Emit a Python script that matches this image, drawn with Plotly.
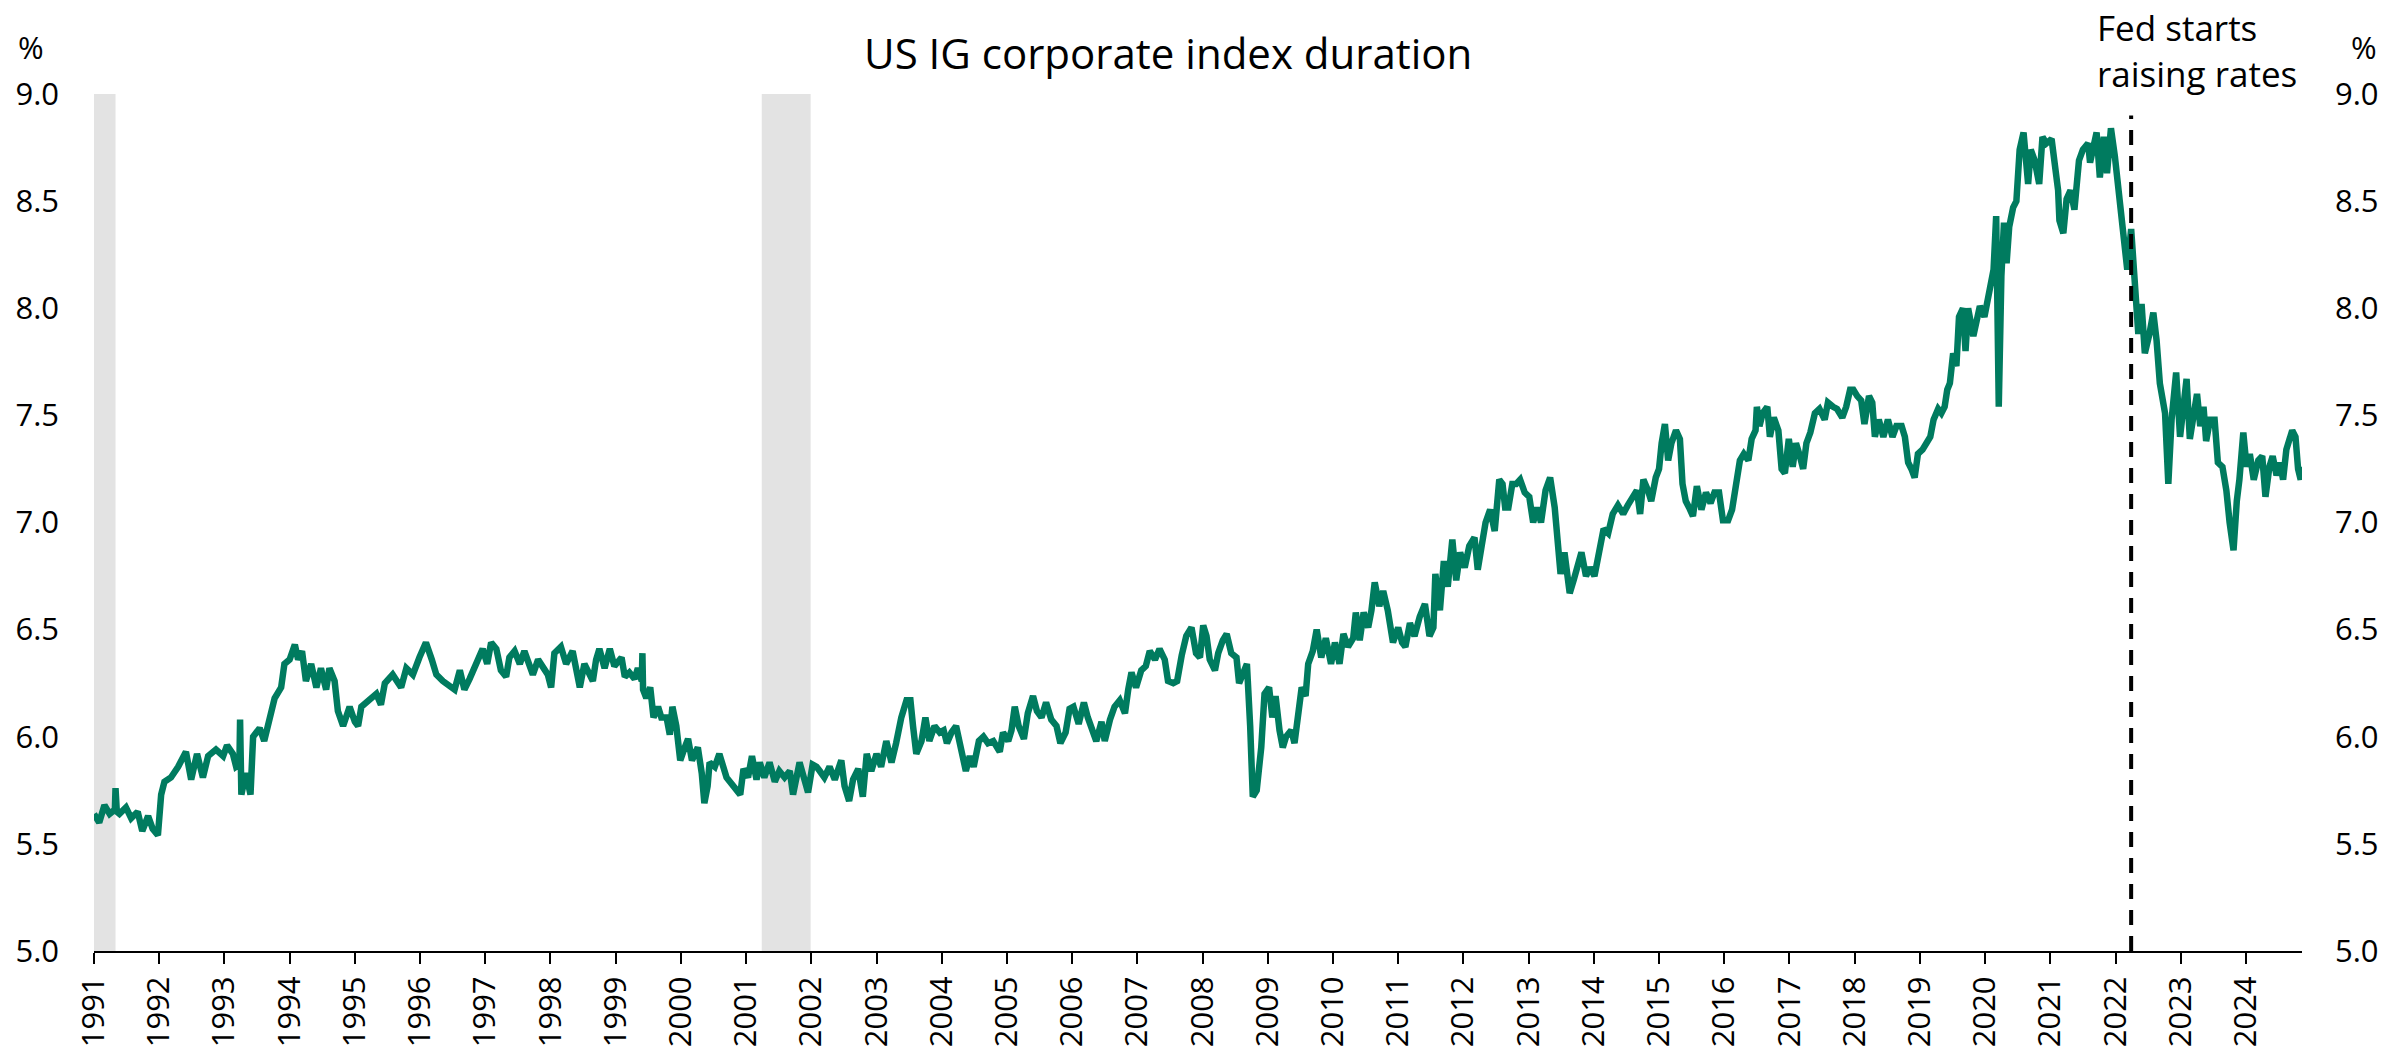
import plotly.graph_objects as go

# Decimal-year time stamps and index duration (%)
years = [
    1991.00, 1991.08, 1991.16, 1991.24, 1991.32, 1991.33, 1991.35, 1991.39, 1991.49, 1991.57,
    1991.67, 1991.74, 1991.83, 1991.90, 1991.98, 1992.03, 1992.08, 1992.18, 1992.29, 1992.41,
    1992.49, 1992.58, 1992.67, 1992.75, 1992.87, 1992.98, 1993.04, 1993.13, 1993.18, 1993.23,
    1993.24, 1993.26, 1993.33, 1993.40, 1993.44, 1993.54, 1993.61, 1993.69, 1993.77, 1993.87,
    1993.92, 1994.00, 1994.08, 1994.13, 1994.19, 1994.25, 1994.33, 1994.41, 1994.48, 1994.56,
    1994.61, 1994.69, 1994.74, 1994.82, 1994.92, 1995.00, 1995.05, 1995.10, 1995.23, 1995.33,
    1995.40, 1995.46, 1995.58, 1995.71, 1995.79, 1995.89, 1995.99, 1996.04, 1996.09, 1996.18,
    1996.25, 1996.35, 1996.43,
    1996.53, 1996.61, 1996.68, 1996.76, 1996.84, 1996.91, 1996.96, 1997.03, 1997.09, 1997.17,
    1997.24, 1997.32, 1997.37, 1997.45, 1997.53, 1997.60, 1997.68, 1997.73, 1997.81, 1997.88,
    1997.96, 1998.01, 1998.06, 1998.16, 1998.24, 1998.34, 1998.40, 1998.45, 1998.52, 1998.60,
    1998.65, 1998.70, 1998.75, 1998.83, 1998.91, 1998.98, 1999.09, 1999.14, 1999.21, 1999.29,
    1999.34, 1999.40, 1999.41, 1999.42, 1999.47, 1999.53, 1999.58, 1999.65, 1999.70, 1999.78,
    1999.83, 1999.87, 1999.93, 1999.99, 2000.06, 2000.11, 2000.17, 2000.26, 2000.32, 2000.36,
    2000.41, 2000.44, 2000.52, 2000.59, 2000.70, 2000.79, 2000.85, 2000.91, 2000.96, 2001.03,
    2001.09, 2001.16, 2001.21, 2001.28, 2001.36, 2001.44, 2001.51, 2001.59, 2001.67, 2001.72,
    2001.82, 2001.87, 2001.95, 2002.02, 2002.08,
    2002.13, 2002.20, 2002.28, 2002.36, 2002.46, 2002.51, 2002.58, 2002.64, 2002.72, 2002.79,
    2002.85, 2002.92, 2003.00, 2003.07, 2003.15, 2003.23, 2003.30, 2003.38, 2003.46, 2003.52,
    2003.56, 2003.61, 2003.69, 2003.75, 2003.81, 2003.89, 2003.97, 2004.03, 2004.08, 2004.15,
    2004.22, 2004.27, 2004.37, 2004.43, 2004.49, 2004.57, 2004.64, 2004.71, 2004.79, 2004.89,
    2004.94, 2005.02, 2005.07, 2005.12, 2005.18, 2005.26, 2005.32, 2005.40, 2005.46, 2005.53,
    2005.60, 2005.68, 2005.76, 2005.82, 2005.90, 2005.96, 2006.02, 2006.10, 2006.18, 2006.24,
    2006.32, 2006.37, 2006.45, 2006.50, 2006.58, 2006.65, 2006.73, 2006.81, 2006.86, 2006.91,
    2006.98, 2007.06, 2007.13, 2007.19, 2007.27, 2007.34, 2007.42, 2007.47, 2007.55, 2007.61,
    2007.68, 2007.75, 2007.83, 2007.90, 2007.96, 2008.01, 2008.06, 2008.11, 2008.19, 2008.24,
    2008.31, 2008.37, 2008.44, 2008.52, 2008.56, 2008.62, 2008.68, 2008.73, 2008.77, 2008.83,
    2008.90, 2008.95, 2009.02, 2009.07, 2009.12, 2009.18, 2009.23, 2009.28, 2009.36, 2009.41,
    2009.45, 2009.52, 2009.58, 2009.62, 2009.69, 2009.75, 2009.82, 2009.89, 2009.97, 2010.03,
    2010.10, 2010.16, 2010.23, 2010.31, 2010.35, 2010.41, 2010.47, 2010.54, 2010.59, 2010.64,
    2010.71, 2010.77, 2010.84, 2010.92, 2011.00, 2011.06, 2011.11, 2011.18, 2011.25, 2011.33,
    2011.41, 2011.48, 2011.54, 2011.57, 2011.64, 2011.70, 2011.76, 2011.83, 2011.89, 2011.95,
    2012.02, 2012.09, 2012.17, 2012.22, 2012.28, 2012.34, 2012.41, 2012.48, 2012.55, 2012.60,
    2012.64, 2012.69, 2012.75, 2012.81, 2012.87, 2012.94, 2013.01, 2013.07, 2013.13, 2013.19,
    2013.26, 2013.33, 2013.40, 2013.45, 2013.49, 2013.55, 2013.63, 2013.69, 2013.76, 2013.81,
    2013.88, 2013.94, 2014.01, 2014.06,
    2014.15, 2014.22, 2014.29, 2014.37, 2014.45, 2014.52, 2014.60, 2014.66, 2014.71, 2014.76,
    2014.83, 2014.88, 2014.95, 2015.00, 2015.04, 2015.09, 2015.14, 2015.19, 2015.26, 2015.32,
    2015.36, 2015.41, 2015.46, 2015.52, 2015.58, 2015.65, 2015.72, 2015.79, 2015.85, 2015.92,
    2015.98, 2016.06, 2016.12, 2016.19, 2016.24, 2016.30, 2016.37, 2016.42, 2016.48, 2016.50,
    2016.54, 2016.59, 2016.66, 2016.70, 2016.76, 2016.83, 2016.88, 2016.93, 2016.99, 2017.05,
    2017.10, 2017.16, 2017.21, 2017.26, 2017.32, 2017.39, 2017.46, 2017.54, 2017.59, 2017.67,
    2017.73, 2017.81, 2017.87, 2017.93, 2017.98, 2018.04, 2018.10, 2018.15, 2018.22, 2018.27,
    2018.31, 2018.37, 2018.44, 2018.51, 2018.58, 2018.64, 2018.72, 2018.77, 2018.82, 2018.87,
    2018.92, 2018.97, 2019.04, 2019.10, 2019.16, 2019.21, 2019.28, 2019.33, 2019.38, 2019.42,
    2019.46, 2019.51, 2019.56, 2019.60, 2019.66, 2019.70, 2019.74, 2019.82, 2019.87, 2019.92,
    2019.99, 2020.05, 2020.10, 2020.13, 2020.17, 2020.21, 2020.25, 2020.29, 2020.33, 2020.37,
    2020.43, 2020.48, 2020.53, 2020.59, 2020.66, 2020.70, 2020.76, 2020.83, 2020.88, 2020.94,
    2021.02, 2021.07, 2021.12, 2021.14, 2021.20, 2021.25, 2021.31, 2021.37, 2021.44, 2021.50,
    2021.58, 2021.61, 2021.71, 2021.76, 2021.82, 2021.87, 2021.93, 2021.99, 2022.04, 2022.09,
    2022.13, 2022.18, 2022.24, 2022.30, 2022.35, 2022.40, 2022.45, 2022.52, 2022.58, 2022.63,
    2022.68, 2022.76, 2022.81, 2022.86, 2022.93, 2022.99, 2023.04, 2023.09, 2023.14, 2023.19,
    2023.25, 2023.30, 2023.35, 2023.39, 2023.45, 2023.52, 2023.57, 2023.64, 2023.70, 2023.75,
    2023.81, 2023.86, 2023.90, 2023.96, 2024.01, 2024.06, 2024.12, 2024.19, 2024.25, 2024.30,
    2024.36, 2024.41, 2024.47, 2024.52, 2024.57, 2024.62, 2024.67, 2024.71, 2024.76, 2024.80,
    2024.84, 2024.86,
]

duration = [
    5.64, 5.60, 5.68, 5.64, 5.66, 5.76, 5.65, 5.64, 5.67, 5.62,
    5.65, 5.56, 5.63, 5.57, 5.54, 5.73, 5.79, 5.81, 5.86, 5.93,
    5.80, 5.92, 5.81, 5.91, 5.94, 5.91, 5.96, 5.92, 5.86, 5.87,
    6.08, 5.73, 5.83, 5.73, 6.00, 6.04, 5.98, 6.07, 6.18, 6.23,
    6.34, 6.36, 6.43, 6.36, 6.40, 6.26, 6.34, 6.23, 6.32, 6.22,
    6.32, 6.26, 6.12, 6.05, 6.14, 6.07, 6.05, 6.14, 6.18, 6.20,
    6.15, 6.25, 6.29, 6.23, 6.32, 6.29, 6.37, 6.40, 6.44, 6.36,
    6.29, 6.26, 6.24,
    6.22, 6.31, 6.22, 6.27, 6.32, 6.37, 6.41, 6.34, 6.44, 6.41,
    6.31, 6.28, 6.37, 6.40, 6.34, 6.40, 6.34, 6.29, 6.36, 6.33,
    6.29, 6.23, 6.39, 6.42, 6.34, 6.40, 6.28, 6.23, 6.34, 6.28,
    6.26, 6.36, 6.41, 6.32, 6.41, 6.33, 6.37, 6.28, 6.30, 6.27,
    6.32, 6.26, 6.39, 6.22, 6.18, 6.23, 6.09, 6.14, 6.09, 6.09,
    6.01, 6.14, 6.05, 5.89, 5.95, 5.99, 5.89, 5.95, 5.83, 5.69,
    5.77, 5.88, 5.86, 5.92, 5.81, 5.78, 5.76, 5.73, 5.85, 5.81,
    5.91, 5.80, 5.88, 5.81, 5.88, 5.79, 5.84, 5.81, 5.84, 5.73,
    5.88, 5.83, 5.74, 5.87, 5.86,
    5.84, 5.81, 5.86, 5.80, 5.89, 5.77, 5.70, 5.80, 5.85, 5.72,
    5.92, 5.84, 5.92, 5.86, 5.98, 5.88, 5.97, 6.09, 6.17, 6.17,
    6.05, 5.92, 5.98, 6.09, 5.98, 6.05, 6.02, 6.03, 5.97, 6.02,
    6.05, 5.98, 5.84, 5.91, 5.86, 5.98, 6.00, 5.97, 5.98, 5.93,
    6.02, 5.98, 6.03, 6.14, 6.05, 5.99, 6.11, 6.19, 6.12, 6.09,
    6.16, 6.08, 6.05, 5.97, 6.02, 6.13, 6.14, 6.06, 6.16, 6.09,
    6.02, 5.98, 6.07, 5.98, 6.08, 6.14, 6.17, 6.11, 6.22, 6.30,
    6.23, 6.31, 6.33, 6.40, 6.36, 6.41, 6.36, 6.26, 6.25, 6.26,
    6.38, 6.47, 6.51, 6.39, 6.37, 6.52, 6.47, 6.36, 6.31, 6.39,
    6.45, 6.48, 6.39, 6.37, 6.25, 6.30, 6.34, 6.05, 5.72, 5.75,
    5.95, 6.20, 6.23, 6.09, 6.19, 6.03, 5.95, 6.00, 6.03, 5.97,
    6.09, 6.23, 6.19, 6.34, 6.40, 6.50, 6.37, 6.46, 6.34, 6.44,
    6.34, 6.48, 6.42, 6.46, 6.58, 6.45, 6.58, 6.51, 6.59, 6.72,
    6.61, 6.68, 6.59, 6.44, 6.51, 6.44, 6.42, 6.53, 6.47, 6.56,
    6.62, 6.47, 6.51, 6.76, 6.59, 6.82, 6.70, 6.92, 6.73, 6.86,
    6.79, 6.89, 6.93, 6.78, 6.89, 7.00, 7.06, 6.96, 7.20, 7.18,
    7.07, 7.07, 7.18, 7.18, 7.20, 7.14, 7.12, 7.00, 7.07, 7.00,
    7.15, 7.21, 7.07, 6.93, 6.76, 6.86, 6.67, 6.73, 6.82, 6.86,
    6.75, 6.79, 6.75, 6.84,
    6.97, 6.95, 7.04, 7.08, 7.04, 7.08, 7.12, 7.15, 7.04, 7.20,
    7.15, 7.10, 7.21, 7.25, 7.37, 7.46, 7.29, 7.37, 7.43, 7.39,
    7.18, 7.10, 7.07, 7.03, 7.17, 7.06, 7.14, 7.09, 7.14, 7.14,
    7.01, 7.01, 7.06, 7.21, 7.29, 7.32, 7.29, 7.39, 7.43, 7.54,
    7.45, 7.51, 7.54, 7.40, 7.49, 7.43, 7.25, 7.23, 7.39, 7.26,
    7.37, 7.31, 7.25, 7.37, 7.42, 7.51, 7.53, 7.48, 7.56, 7.54,
    7.53, 7.49, 7.54, 7.62, 7.62, 7.59, 7.57, 7.46, 7.59, 7.56,
    7.40, 7.48, 7.40, 7.48, 7.40, 7.45, 7.45, 7.40, 7.28, 7.25,
    7.21, 7.32, 7.34, 7.37, 7.40, 7.48, 7.53, 7.51, 7.54, 7.62,
    7.65, 7.79, 7.73, 7.96, 8.00, 7.80, 8.00, 7.87, 7.96, 8.01,
    7.96, 8.05, 8.15, 8.18, 8.43, 7.54, 8.15, 8.40, 8.21, 8.38,
    8.47, 8.50, 8.74, 8.82, 8.58, 8.74, 8.69, 8.58, 8.80, 8.77,
    8.79, 8.66, 8.55, 8.41, 8.35, 8.51, 8.55, 8.46, 8.69, 8.74,
    8.77, 8.68, 8.82, 8.61, 8.80, 8.63, 8.84, 8.71, 8.58, 8.47,
    8.32, 8.18, 8.37, 8.07, 7.88, 8.02, 7.79, 7.88, 7.98, 7.85,
    7.65, 7.51, 7.18, 7.48, 7.70, 7.40, 7.57, 7.67, 7.39, 7.50,
    7.60, 7.45, 7.54, 7.38, 7.48, 7.48, 7.28, 7.26, 7.15, 7.00,
    6.87, 7.10, 7.20, 7.42, 7.26, 7.32, 7.20, 7.29, 7.31, 7.12,
    7.26, 7.31, 7.22, 7.28, 7.20, 7.34, 7.39, 7.43, 7.40, 7.25,
    7.20, 7.26,
]

recessions = [(1991.00, 1991.33), (2001.24, 2001.99)]
fed_hike = 2022.24
year_ticks = list(range(1991, 2025))
y_ticks = [5.0, 5.5, 6.0, 6.5, 7.0, 7.5, 8.0, 8.5, 9.0]

FONT = "Open Sans"
GREEN = "#007B5F"

fig = go.Figure()
fig.add_trace(go.Scatter(x=years, y=duration, mode="lines",
                         line=dict(color=GREEN, width=6.5), showlegend=False,
                         hoverinfo="skip"))
# invisible copy to activate the right-hand axis
fig.add_trace(go.Scatter(x=years, y=duration, mode="lines", yaxis="y2",
                         line=dict(color=GREEN, width=0), opacity=0,
                         showlegend=False, hoverinfo="skip"))

shapes = []
for x0, x1 in recessions:
    shapes.append(dict(type="rect", xref="x", yref="y", x0=x0, x1=x1, y0=5.0, y1=9.0,
                       fillcolor="#E3E3E3", line=dict(width=0), layer="below"))
shapes.append(dict(type="line", xref="x", yref="y", x0=fed_hike, x1=fed_hike,
                   y0=5.0, y1=8.9, line=dict(color="black", width=4, dash="15px,11px")))

axis_font = dict(family=FONT, size=31, color="black")
note_font = dict(family=FONT, size=35, color="black")

fig.update_layout(
    width=2389, height=1051,
    margin=dict(l=94, r=87, t=94, b=100, autoexpand=False),
    paper_bgcolor="white", plot_bgcolor="white",
    font=axis_font,
    shapes=shapes,
    title=dict(text="US IG corporate index duration", x=0.489, xanchor="center",
               y=1 - 54 / 1051, yanchor="middle", font=dict(family=FONT, size=42, color="black")),
    xaxis=dict(range=[1991.0, 2024.86], tickmode="array", tickvals=year_ticks,
               ticktext=[str(y) for y in year_ticks], tickangle=-90,
               ticks="outside", ticklen=11, tickwidth=2, tickcolor="black",
               showline=True, linewidth=2, linecolor="black", showgrid=False,
               zeroline=False, tickfont=axis_font, automargin=False),
    yaxis=dict(range=[5.0, 9.0], tickmode="array", tickvals=y_ticks,
               ticktext=[f"{v:.1f}" for v in y_ticks], showgrid=False,
               zeroline=False, showline=False, ticks="", ticklabelstandoff=34,
               tickfont=axis_font, automargin=False),
    yaxis2=dict(range=[5.0, 9.0], tickmode="array", tickvals=y_ticks,
                ticktext=[f"{v:.1f}" for v in y_ticks], overlaying="y", side="right",
                showgrid=False, zeroline=False, showline=False, ticks="",
                ticklabelstandoff=32, tickfont=axis_font, automargin=False),
    annotations=[
        dict(text="%", xref="paper", yref="paper", x=(31 - 94) / 2208, y=(951 - 47) / 857,
             xanchor="center", yanchor="middle", showarrow=False, font=axis_font),
        dict(text="%", xref="paper", yref="paper", x=(2364 - 94) / 2208, y=(951 - 47) / 857,
             xanchor="center", yanchor="middle", showarrow=False, font=axis_font),
        dict(text="Fed starts<br>raising rates", xref="paper", yref="paper",
             x=(2095 - 94) / 2208, y=(951 - 50) / 857, xanchor="left", yanchor="middle",
             align="left", showarrow=False, font=note_font),
    ],
)

fig.write_html("out.html", config={"displayModeBar": False},
               post_script="document.body.style.margin='0';")
